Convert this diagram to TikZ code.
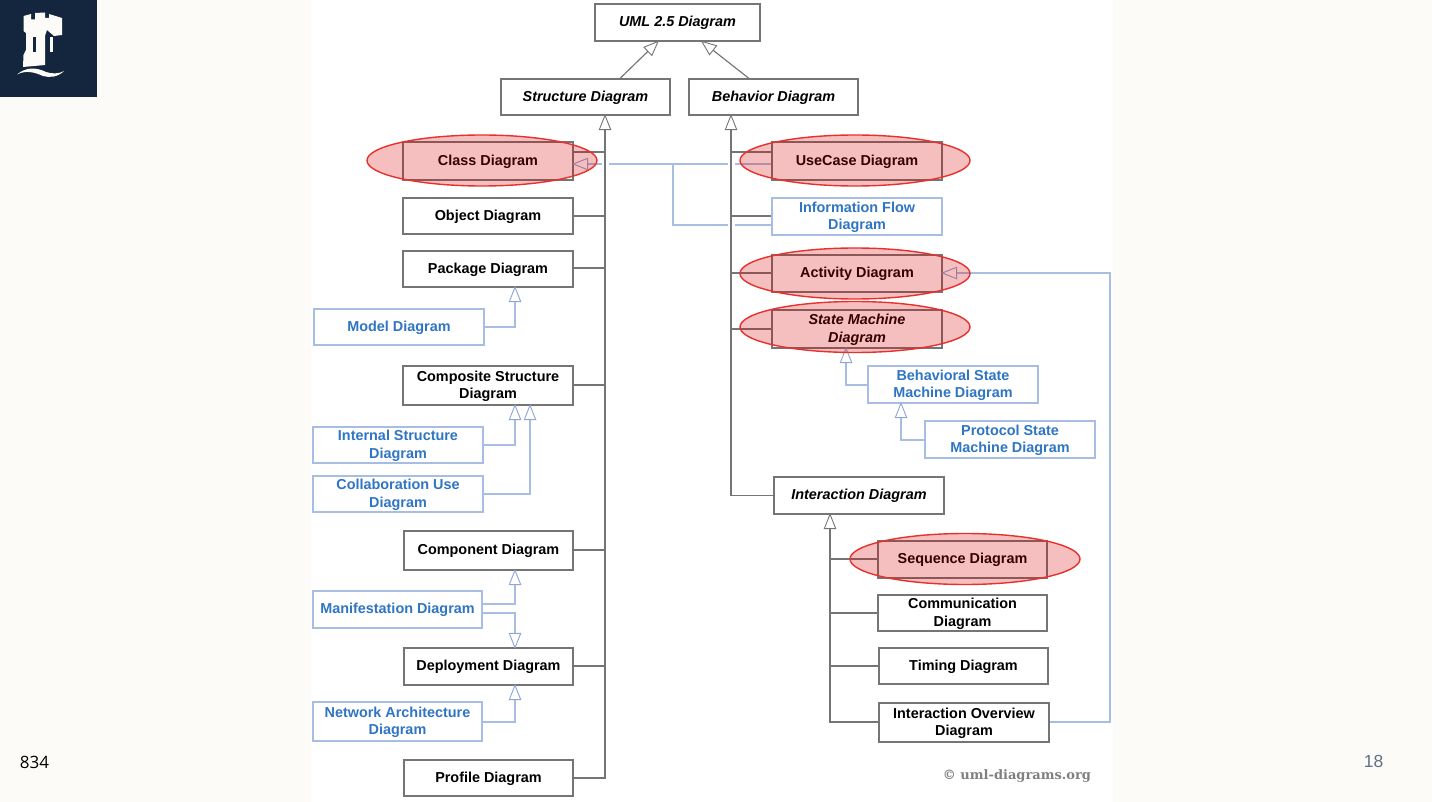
\documentclass[tikz,border=0pt]{standalone}
\usepackage{fontspec}
\setmainfont{Liberation Sans}
\newfontfamily\wmfont{DejaVu Serif}
\newfontfamily\slidefont{Open Sans}
\usetikzlibrary{arrows.meta,shapes.geometric}
\definecolor{slidebg}{HTML}{FCFBF7}
\definecolor{navy}{HTML}{14263E}
\definecolor{edgegrey}{HTML}{757575}
\definecolor{edgeblue}{HTML}{A8BDE2}
\definecolor{tipblue}{HTML}{8CA6D6}
\definecolor{textblue}{HTML}{2F75C4}
\definecolor{ringred}{HTML}{E8302C}
\definecolor{pagenum}{HTML}{5F7288}
\tikzset{
  x=1pt,y=-1pt,
  basebox/.style={rectangle,fill=white,inner sep=0pt,
    font=\fontsize{14.4}{17.4}\selectfont\bfseries},
  boxk/.style={basebox,draw=edgegrey,line width=1.1pt,text=black},
  boxi/.style={boxk,font=\fontsize{14.4}{17.4}\selectfont\bfseries\itshape},
  boxb/.style={basebox,draw=edgeblue,line width=1.1pt,text=textblue},
  gline/.style={draw=edgegrey,line width=1.15pt},
  bline/.style={draw=edgeblue,line width=1.2pt},
  gtip/.style={gline,shorten >=-1.5pt,-{Triangle[length=16pt,width=12.5pt,fill=white,line width=.9pt]}},
  btip/.style={bline,shorten >=-1.5pt,-{Triangle[length=16pt,width=12.5pt,fill=white,color=tipblue,line width=.9pt]}},
  halo/.style={draw=white,line width=7pt},
  ring/.style={ellipse,draw=ringred,line width=1.4pt,fill=red!85!black,fill opacity=.25,
    minimum width=230pt,minimum height=51pt,inner sep=0pt},
}
\newcommand{\bx}[7]{%
  \pgfmathsetmacro\bcx{(#3+#5)/2}\pgfmathsetmacro\bcy{(#4+#6)/2}%
  \pgfmathsetmacro\bwd{#5-#3}\pgfmathsetmacro\bht{#6-#4}%
  \node[#2,minimum width=\bwd pt,minimum height=\bht pt] (#1) at (\bcx,\bcy)
    {\raisebox{-1pt}[\height][\depth]{\begin{tabular}{@{}c@{}}#7\end{tabular}}};}
\begin{document}
\begin{tikzpicture}
\useasboundingbox (0,0) rectangle (1432,802);
\fill[slidebg] (0,0) rectangle (1432,802);
\fill[white] (311,0) rectangle (1113,802);
% logo
\fill[navy] (0,0) rectangle (96.5,97.5);
\fill[slidebg] (23.5,16) -- (31,14) -- (31,19.5) -- (35,19.5) -- (35,13) -- (45,12.5) -- (45,18) -- (49,18) -- (49,14) -- (62,18) -- (62,35) -- (54,36) -- (47,30) -- (45,36) -- (45,65) -- (23,67) -- (23.5,55) -- (26,50) -- (26,33) -- (23.5,31) -- cycle;
\fill[navy] (32.5,37) rectangle (35.5,52);
\fill[slidebg] (50,37) rectangle (53,52);
\fill[slidebg] (17,74.5) .. controls (26,67) and (36,67) .. (46,72) .. controls (52,74) and (59,74) .. (64,71) .. controls (58,77) and (50,78) .. (43,76) .. controls (34,72) and (26,70) .. (17,74.5) -- cycle;

% boxes
\bx{uml}{boxi}{595}{4}{760}{41}{UML 2.5 Diagram}
\bx{structure}{boxi}{501}{79}{670}{115}{Structure Diagram}
\bx{behavior}{boxi}{689}{79}{858}{115}{Behavior Diagram}
\bx{class}{boxk}{403}{142}{573}{180}{Class Diagram}
\bx{object}{boxk}{403}{198}{573}{234}{Object Diagram}
\bx{package}{boxk}{403}{251}{573}{287}{Package Diagram}
\bx{model}{boxb}{314}{309}{484}{345}{Model Diagram}
\bx{composite}{boxk}{403}{366}{573}{405}{Composite Structure\\Diagram}
\bx{internal}{boxb}{313}{427}{483}{463}{Internal Structure\\Diagram}
\bx{collab}{boxb}{313}{476}{483}{512}{Collaboration Use\\Diagram}
\bx{component}{boxk}{404}{531}{573}{570}{Component Diagram}
\bx{manifest}{boxb}{313}{591}{482}{628}{Manifestation Diagram}
\bx{deploy}{boxk}{404}{648}{573}{685}{Deployment Diagram}
\bx{network}{boxb}{313}{702}{482}{741}{Network Architecture\\Diagram}
\bx{profile}{boxk}{404}{760}{573}{796}{Profile Diagram}
\bx{usecase}{boxk}{772}{142}{942}{180}{UseCase Diagram}
\bx{info}{boxb}{772}{198}{942}{235}{Information Flow\\Diagram}
\bx{activity}{boxk}{772}{255}{942}{292}{Activity Diagram}
\bx{state}{boxi}{772}{310}{942}{348}{State Machine\\Diagram}
\bx{bstate}{boxb}{868}{366}{1038}{403}{Behavioral State\\Machine Diagram}
\bx{pstate}{boxb}{925}{421}{1095}{458}{Protocol State\\Machine Diagram}
\bx{interaction}{boxi}{774}{477}{944}{514}{Interaction Diagram}
\bx{sequence}{boxk}{878}{541}{1047}{578}{Sequence Diagram}
\bx{comm}{boxk}{878}{595}{1047}{631}{Communication\\Diagram}
\bx{timing}{boxk}{879}{648}{1048}{684}{Timing Diagram}
\bx{overview}{boxk}{879}{703}{1049}{742}{Interaction Overview\\Diagram}

% trunk anchors on the parent boxes
\coordinate (sT) at (structure.south -| 605,0);
\coordinate (bT) at (behavior.south -| 731,0);
\coordinate (iT) at (interaction.south -| 830,0);

% blue connectors below the crossing gaps
\coordinate (jn) at (673,164);
\draw[btip] (usecase.west |- 0,164) -- (class.east |- 0,164);
\draw[bline] (info.west |- 0,225) -| (jn);
\draw[btip] (overview.east |- 0,722) -- (1110,722) -- (1110,273) -- (activity.east |- 0,273);
\draw[btip] (model.east |- 0,327) -| (package.south -| 515,0);
\draw[btip] (internal.east |- 0,445) -| (composite.south -| 515,0);
\draw[btip] (collab.east |- 0,494) -| (composite.south -| 530,0);
\draw[btip] (manifest.east |- 0,604) -| (component.south -| 515,0);
\draw[btip] (manifest.east |- 0,613) -| (deploy.north -| 515,0);
\draw[btip] (network.east |- 0,722) -| (deploy.south -| 515,0);
\draw[btip] (bstate.west |- 0,385) -| (state.south -| 846,0);
\draw[btip] (pstate.west |- 0,440) -| (bstate.south -| 901,0);

% white gaps where blue lines hop over the trunks
\path[halo] (605,150) -- (605,180);
\path[halo] (731,150) -- (731,240);

% grey connectors
\draw[gtip] ([xshift=34.5pt]structure.north) -- ([xshift=-19.5pt]uml.south);
\draw[gtip] ([xshift=-24.5pt]behavior.north) -- ([xshift=24.5pt]uml.south);
\draw[gtip] (profile.east |- 0,778) -| (sT);
\foreach \n/\y in {class/152,object/216,package/268,composite/385,component/550,deploy/666}
  \draw[gline] (\n.east |- 0,\y) -- (605,\y);
\draw[gtip] (interaction.west) -| (bT);
\foreach \n/\y in {usecase/152,info/216,activity/273,state/329}
  \draw[gline] (\n.west |- 0,\y) -- (731,\y);
\draw[gtip] (overview.west |- 0,722) -| (iT);
\foreach \n/\y in {sequence/559,comm/613,timing/666}
  \draw[gline] (\n.west |- 0,\y) -- (830,\y);

% red highlight rings
\node[ring] (r1) at (482,160.5) {};
\node[ring] (r2) at (855,160.5) {};
\node[ring] (r3) at (855,273.5) {};
\node[ring] (r4) at (855,327) {};
\node[ring] (r5) at (965,559) {};

% free texts
\node[text=gray,inner sep=0pt,font=\fontsize{13}{15}\wmfont\bfseries] (wm) at (1017,775.5) {© uml-diagrams.org};
\node[text=black,inner sep=0pt,font=\fontsize{17}{19}\slidefont] (p834) at (34.5,762) {834};
\node[text=pagenum,inner sep=0pt,font=\fontsize{17.5}{20}\selectfont] (p18) at (1373.5,761) {18};
\end{tikzpicture}
\end{document}
